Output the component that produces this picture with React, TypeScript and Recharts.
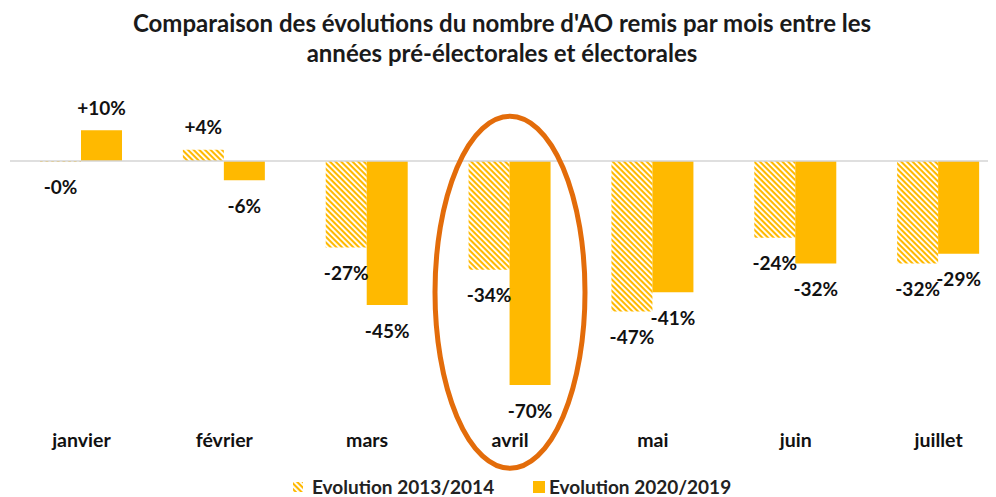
import React from 'react';
import { BarChart, Bar, XAxis, YAxis, ReferenceLine, ReferenceDot, LabelList } from 'recharts';

const months = ['janvier', 'février', 'mars', 'avril', 'mai', 'juin', 'juillet'];
const evol2013 = [-0.3, 3.5, -27, -34, -47, -24, -32];
const evol2020 = [9.6, -6, -45, -70, -41, -32, -29];

const ORANGE = '#FFB900';
const FONT = 'Lato, "Open Sans", sans-serif';

const data = months.map((m, i) => ({ month: m, a: evol2013[i], b: evol2020[i] }));

const fmt = (v: number) => (v < 0 ? '-' : '+') + Math.round(Math.abs(v)) + '%';

// value label: below the bar end for negatives, above for positives
const ValueLabel = (props: any) => {
  const { x, y, width, height, value } = props;
  const v = Number(value);
  const top = Math.min(y, y + height);
  const bottom = Math.max(y, y + height);
  const cy = v < 0 ? bottom + 25 : top - 23;
  return (
    <text
      x={x + width / 2}
      y={cy}
      textAnchor="middle"
      dominantBaseline="central"
      fontFamily={FONT}
      fontWeight={700}
      fontSize={19}
      fill="#111"
    >
      {fmt(v)}
    </text>
  );
};

const MonthTick = (props: any) => {
  const { x, y, payload } = props;
  return (
    <text x={x} y={y + 14} textAnchor="middle" dominantBaseline="central" fontFamily={FONT} fontWeight={700} fontSize={19.5} fill="#111">
      {payload.value}
    </text>
  );
};

const Hatch = ({ id }: { id: string }) => (
  <pattern id={id} width="4" height="4" patternUnits="userSpaceOnUse" patternTransform="rotate(45)">
    <rect x="0" y="0" width="4" height="4" fill="#fff" />
    <rect x="0" y="0" width="4" height="2.1" fill={ORANGE} />
  </pattern>
);

const legendStyle: React.CSSProperties = {
  position: 'absolute',
  top: 468,
  height: 21,
  lineHeight: '21px',
  display: 'flex',
  alignItems: 'center',
  fontWeight: 700,
  fontSize: 19,
  color: '#222',
  whiteSpace: 'nowrap',
};

export default function App() {
  return (
    <div style={{ position: 'relative', width: 988, height: 489, fontFamily: FONT }}>
      <div
        style={{
          position: 'absolute',
          top: 0,
          left: 0,
          width: 988,
          textAlign: 'center',
          fontWeight: 700,
          fontSize: 24,
          lineHeight: '30px',
          color: '#1a1a1a',
        }}
      >
        Comparaison des évolutions du nombre d'AO remis par mois entre les
        <br />
        années pré-électorales et électorales
      </div>

      <div style={{ position: 'absolute', top: 0, left: 0, width: 988, height: 489, overflow: 'hidden' }}>
        <BarChart
          width={1002}
          height={489}
          data={data}
          margin={{ top: 105, right: 0, left: 2, bottom: 0 }}
          barSize={41}
          barGap={0}
        >
          <defs>
            <Hatch id="hatch" />
          </defs>
          <XAxis dataKey="month" axisLine={false} tickLine={false} tick={<MonthTick />} interval={0} height={80} />
          <YAxis hide domain={[-80, 15]} />
          <ReferenceLine y={0} stroke="#d4d4d4" strokeWidth={1.5} />
          <Bar dataKey="a" fill="url(#hatch)" isAnimationActive={false}>
            <LabelList dataKey="a" content={<ValueLabel />} />
          </Bar>
          <Bar dataKey="b" fill={ORANGE} isAnimationActive={false}>
            <LabelList dataKey="b" content={<ValueLabel />} />
          </Bar>
          <ReferenceDot
            x="avril"
            y={-41}
            ifOverflow="visible"
            shape={(p: any) => (
              <ellipse cx={p.cx} cy={p.cy} rx={75} ry={176} fill="none" stroke="#E36C0A" strokeWidth={5} />
            )}
          />
        </BarChart>
      </div>

      <div style={{ ...legendStyle, left: 284 }}>
        <svg width={12} height={12} style={{ marginRight: 8 }}>
          <defs>
            <Hatch id="hatchLegend" />
          </defs>
          <rect x={1} y={1} width={10} height={10} fill="url(#hatchLegend)" />
        </svg>
        Evolution 2013/2014
      </div>
      <div style={{ ...legendStyle, left: 525 }}>
        <svg width={12} height={12} style={{ marginRight: 4 }}>
          <rect x={0} y={0} width={12} height={12} fill={ORANGE} />
        </svg>
        Evolution 2020/2019
      </div>
    </div>
  );
}
